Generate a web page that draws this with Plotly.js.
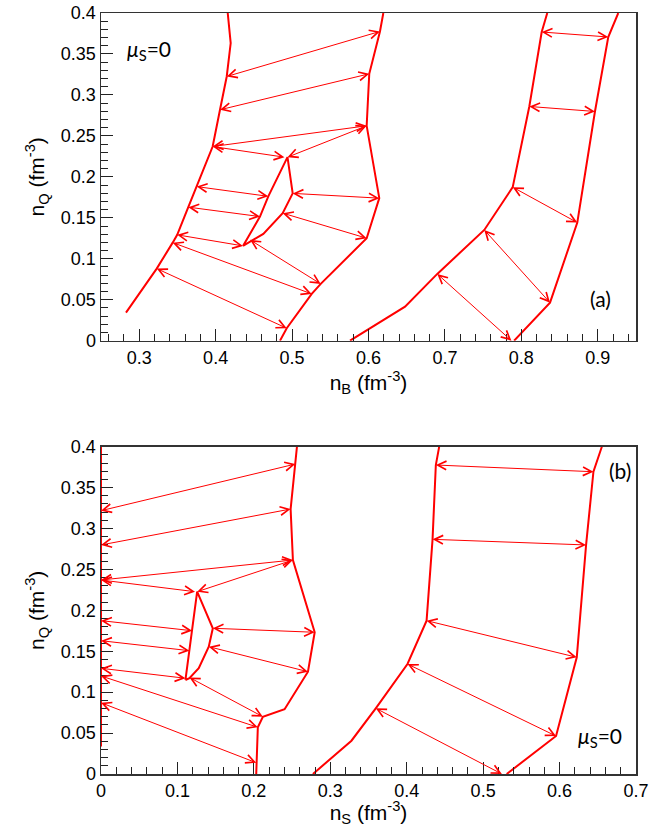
<!DOCTYPE html>
<html>
<head>
<meta charset="utf-8">
<script src="https://cdn.plot.ly/plotly-3.0.1.min.js"></script>
<style>html,body{margin:0;padding:0;background:#fff;}</style>
</head>
<body>
<div id="chart" style="width:649px;height:827px;"></div>
<script>
// ---------- Panel (a): n_Q vs n_B ----------
const aLeftX  = [0.2827, 0.3229, 0.3438, 0.3497, 0.3642, 0.3752, 0.3961, 0.4057, 0.4145, 0.4197, 0.4158];
const aLeftY  = [0.0342, 0.0880, 0.1197, 0.1292, 0.1630, 0.1881, 0.2370, 0.2819, 0.3225, 0.3633, 0.4000];
const aMidX   = [0.4842, 0.4930, 0.5257, 0.5375, 0.5976, 0.6141, 0.5976, 0.6010, 0.6150, 0.6194];
const aMidY   = [0.0000, 0.0152, 0.0571, 0.0693, 0.1251, 0.1740, 0.2623, 0.3258, 0.3775, 0.4000];
const aIslX   = [0.4358, 0.4580, 0.4689, 0.4940, 0.5008, 0.4877, 0.4624, 0.4358];
const aIslY   = [0.1157, 0.1515, 0.1762, 0.2240, 0.1798, 0.1557, 0.1304, 0.1157];
const aR1X    = [0.5758, 0.6478, 0.6900, 0.7515, 0.7887, 0.8104, 0.8266, 0.8339];
const aR1Y    = [0.0000, 0.0415, 0.0815, 0.1352, 0.1874, 0.2859, 0.3768, 0.4000];
const aR2X    = [0.7905, 0.8375, 0.8732, 0.8963, 0.9137, 0.9268];
const aR2Y    = [0.0000, 0.0464, 0.1442, 0.2798, 0.3707, 0.4000];
// tie lines (a): start point -> end point
const aTieX1 = [0.3229, 0.3438, 0.3497, 0.4450, 0.4877, 0.5008, 0.4940, 0.3752, 0.3642, 0.3961, 0.4145, 0.4057, 0.3961, 0.6900, 0.7515, 0.7887, 0.8104, 0.8266];
const aTieY1 = [0.0880, 0.1197, 0.1292, 0.1231, 0.1557, 0.1798, 0.2240, 0.1881, 0.1630, 0.2370, 0.3225, 0.2819, 0.2370, 0.0815, 0.1352, 0.1874, 0.2859, 0.3768];
const aTieX2 = [0.4930, 0.5257, 0.4358, 0.5375, 0.5976, 0.6141, 0.5976, 0.4689, 0.4580, 0.4900, 0.6150, 0.6010, 0.5976, 0.7870, 0.8375, 0.8732, 0.8963, 0.9137];
const aTieY2 = [0.0152, 0.0571, 0.1157, 0.0693, 0.1251, 0.1740, 0.2623, 0.1762, 0.1515, 0.2240, 0.3775, 0.3258, 0.2623, 0.0000, 0.0464, 0.1442, 0.2798, 0.3707];

// ---------- Panel (b): n_Q vs n_S ----------
const bLeftX  = [0, 0];
const bLeftY  = [0.0335, 0.4000];
const bMidX   = [0.2564, 0.2543, 0.2481, 0.2511, 0.2796, 0.2708, 0.2402, 0.2118, 0.2052, 0.2031];
const bMidY   = [0.4000, 0.3788, 0.3238, 0.2615, 0.1732, 0.1250, 0.0791, 0.0700, 0.0571, 0.0000];
const bIslX   = [0.1105, 0.1157, 0.1193, 0.1258, 0.1463, 0.1410, 0.1279, 0.1157, 0.1105];
const bIslY   = [0.1149, 0.1507, 0.1751, 0.2228, 0.1781, 0.1556, 0.1292, 0.1170, 0.1149];
const bR1X    = [0.4425, 0.4381, 0.4338, 0.4260, 0.4010, 0.3595, 0.3277, 0.2773];
const bR1Y    = [0.4000, 0.3776, 0.2868, 0.1874, 0.1344, 0.0803, 0.0407, 0.0000];
const bR2X    = [0.6553, 0.6443, 0.6347, 0.6225, 0.5954, 0.5308];
const bR2Y    = [0.4000, 0.3694, 0.2799, 0.1426, 0.0464, 0.0000];
const bTieX1 = [0, 0, 0, 0, 0.1258, 0, 0, 0, 0, 0.1157, 0, 0.1463, 0.1410, 0.4381, 0.4338, 0.4260, 0.4010, 0.3595];
const bTieY1 = [0.3218, 0.2799, 0.2371, 0.2371, 0.2228, 0.1874, 0.1629, 0.1292, 0.1198, 0.1180, 0.0871, 0.1781, 0.1556, 0.3776, 0.2868, 0.1874, 0.1344, 0.0803];
const bTieX2 = [0.2543, 0.2481, 0.2511, 0.1230, 0.2511, 0.1193, 0.1157, 0.1105, 0.2052, 0.2118, 0.2031, 0.2796, 0.2708, 0.6443, 0.6347, 0.6225, 0.5954, 0.5245];
const bTieY2 = [0.3788, 0.3238, 0.2615, 0.2228, 0.2615, 0.1751, 0.1507, 0.1170, 0.0571, 0.0700, 0.0138, 0.1732, 0.1250, 0.3694, 0.2799, 0.1426, 0.0464, 0.0000];

const RED = '#ff0000';
const FONT = 'Liberation Sans, Arial, Helvetica, sans-serif';
const THIN = 'DejaVu Sans ExtraLight, Lato, Liberation Sans, sans-serif';

function curve(x, y, xa, ya) {
  return {x: x, y: y, xaxis: xa, yaxis: ya, mode: 'lines', type: 'scatter',
          line: {color: RED, width: 2}, hoverinfo: 'skip'};
}
const traces = [
  curve(aLeftX, aLeftY, 'x', 'y'),
  curve(aMidX, aMidY, 'x', 'y'),
  curve(aIslX, aIslY, 'x', 'y'),
  curve(aR1X, aR1Y, 'x', 'y'),
  curve(aR2X, aR2Y, 'x', 'y'),
  curve(bLeftX, bLeftY, 'x2', 'y2'),
  curve(bMidX, bMidY, 'x2', 'y2'),
  curve(bIslX, bIslY, 'x2', 'y2'),
  curve(bR1X, bR1Y, 'x2', 'y2'),
  curve(bR2X, bR2Y, 'x2', 'y2')
];

const annotations = [];
function ties(x1, y1, x2, y2, xr, yr) {
  for (let i = 0; i < x1.length; i++) {
    annotations.push({
      xref: xr, yref: yr, axref: xr, ayref: yr,
      x: x2[i], y: y2[i], ax: x1[i], ay: y1[i],
      text: '', showarrow: true, arrowside: 'end+start',
      arrowhead: 5, startarrowhead: 5, arrowsize: 1.7, startarrowsize: 1.7,
      arrowwidth: 1, arrowcolor: RED, standoff: 0, startstandoff: 0,
      borderpad: 0, borderwidth: 0, font: {size: 1}
    });
  }
}
ties(aTieX1, aTieY1, aTieX2, aTieY2, 'x', 'y');
ties(bTieX1, bTieY1, bTieX2, bTieY2, 'x2', 'y2');

annotations.push({xref: 'x', yref: 'y', x: 0.281, y: 0.355, xanchor: 'left', yanchor: 'middle',
  text: '<i>μ</i><sub>S</sub>=0', showarrow: false, font: {family: THIN, size: 21, color: '#000'}});
annotations.push({xref: 'x', yref: 'y', x: 0.904, y: 0.052, xanchor: 'center', yanchor: 'middle',
  text: '(a)', showarrow: false, font: {family: THIN, size: 21, color: '#000'}});
annotations.push({xref: 'x2', yref: 'y2', x: 0.679, y: 0.3715, xanchor: 'center', yanchor: 'middle',
  text: '(b)', showarrow: false, font: {family: THIN, size: 21, color: '#000'}});
annotations.push({xref: 'x2', yref: 'y2', x: 0.6216, y: 0.045, xanchor: 'left', yanchor: 'middle',
  text: '<i>μ</i><sub>S</sub>=0', showarrow: false, font: {family: THIN, size: 21, color: '#000'}});

function axis(extra) {
  return Object.assign({
    ticks: 'inside', ticklen: 12, tickwidth: 1, tickcolor: '#222',
    minor: {ticks: 'inside', ticklen: 7, tickwidth: 1, tickcolor: '#222'},
    showline: true, linecolor: '#333', linewidth: 1.5, mirror: true,
    showgrid: false, zeroline: false,
    tickfont: {family: FONT, size: 18, color: '#000'}
  }, extra);
}

const layout = {
  width: 649, height: 827,
  margin: {l: 101, r: 13, t: 13, b: 53},
  paper_bgcolor: '#fff', plot_bgcolor: '#fff',
  showlegend: false,
  xaxis: axis({domain: [0, 1], range: [0.25, 0.95], anchor: 'y', dtick: 0.1, tick0: 0,
    minor: {dtick: 0.02, tick0: 0, ticks: 'inside', ticklen: 7, tickwidth: 1, tickcolor: '#222'},
    title: {text: 'n<sub>B</sub> (fm<sup>-3</sup>)', font: {family: FONT, size: 21, color: '#000'}, standoff: 4}}),
  yaxis: axis({domain: [0.5694, 1], range: [0, 0.4], anchor: 'x', dtick: 0.05, tick0: 0,
    minor: {dtick: 0.01, tick0: 0, ticks: 'inside', ticklen: 7, tickwidth: 1, tickcolor: '#222'},
    title: {text: 'n<sub>Q</sub> (fm<sup>-3</sup>)', font: {family: FONT, size: 21, color: '#000'}, standoff: 10}}),
  xaxis2: axis({domain: [0, 1], range: [0, 0.7], anchor: 'y2', dtick: 0.1, tick0: 0,
    minor: {dtick: 0.02, tick0: 0, ticks: 'inside', ticklen: 7, tickwidth: 1, tickcolor: '#222'},
    title: {text: 'n<sub>S</sub> (fm<sup>-3</sup>)', font: {family: FONT, size: 21, color: '#000'}, standoff: 4}}),
  yaxis2: axis({domain: [0, 0.4301], range: [0, 0.4], anchor: 'x2', dtick: 0.05, tick0: 0,
    minor: {dtick: 0.01, tick0: 0, ticks: 'inside', ticklen: 7, tickwidth: 1, tickcolor: '#222'},
    title: {text: 'n<sub>Q</sub> (fm<sup>-3</sup>)', font: {family: FONT, size: 21, color: '#000'}, standoff: 10}}),
  annotations: annotations
};

Plotly.newPlot('chart', traces, layout, {displayModeBar: false, staticPlot: true});
</script>
</body>
</html>
